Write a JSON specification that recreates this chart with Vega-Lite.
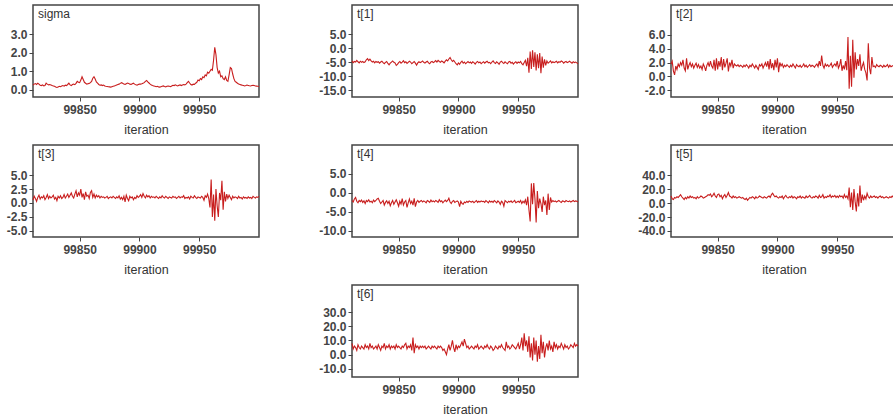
{
"$schema": "https://vega.github.io/schema/vega-lite/v6.json",
"background": "white",
"padding": {"left": 5, "top": 4, "right": 0, "bottom": 0},
"data": {"values": [
{"i":99811,"sigma":0.25,"t1":-4.6,"t2":1.8,"t3":0.5,"t4":-2.0,"t5":10,"t6":8},
{"i":99812,"sigma":0.30,"t1":-5.2,"t2":2.2,"t3":1.2,"t4":-2.4,"t5":6,"t6":4},
{"i":99813,"sigma":0.33,"t1":-4.8,"t2":0.8,"t3":0.8,"t4":-1.6,"t5":5,"t6":6},
{"i":99814,"sigma":0.28,"t1":-5.0,"t2":0.2,"t3":0.3,"t4":-1.2,"t5":8,"t6":5},
{"i":99815,"sigma":0.35,"t1":-4.4,"t2":1.5,"t3":1.0,"t4":-2.2,"t5":7,"t6":3},
{"i":99816,"sigma":0.30,"t1":-4.9,"t2":1.0,"t3":1.4,"t4":-2.6,"t5":9,"t6":7},
{"i":99817,"sigma":0.24,"t1":-5.3,"t2":1.8,"t3":0.7,"t4":-2.0,"t5":8,"t6":5},
{"i":99818,"sigma":0.22,"t1":-4.7,"t2":1.4,"t3":1.1,"t4":-2.3,"t5":10,"t6":4},
{"i":99819,"sigma":0.26,"t1":-5.1,"t2":2.0,"t3":0.9,"t4":-1.9,"t5":12,"t6":6},
{"i":99820,"sigma":0.20,"t1":-4.8,"t2":1.6,"t3":1.3,"t4":-2.5,"t5":9,"t6":5},
{"i":99821,"sigma":0.22,"t1":-5.2,"t2":2.4,"t3":0.6,"t4":-2.1,"t5":7,"t6":4},
{"i":99822,"sigma":0.35,"t1":-4.9,"t2":1.2,"t3":1.0,"t4":-2.8,"t5":5,"t6":7},
{"i":99823,"sigma":0.30,"t1":-4.2,"t2":0.8,"t3":1.5,"t4":-2.0,"t5":8,"t6":5},
{"i":99824,"sigma":0.26,"t1":-3.8,"t2":2.6,"t3":0.8,"t4":-2.3,"t5":6,"t6":6},
{"i":99825,"sigma":0.28,"t1":-4.5,"t2":1.0,"t3":1.2,"t4":-1.8,"t5":9,"t6":4},
{"i":99826,"sigma":0.25,"t1":-4.0,"t2":1.6,"t3":0.9,"t4":-2.4,"t5":7,"t6":8},
{"i":99827,"sigma":0.22,"t1":-4.6,"t2":2.0,"t3":1.1,"t4":-2.2,"t5":10,"t6":5},
{"i":99828,"sigma":0.20,"t1":-5.0,"t2":1.4,"t3":1.4,"t4":-2.6,"t5":8,"t6":6},
{"i":99829,"sigma":0.18,"t1":-4.7,"t2":1.8,"t3":0.7,"t4":-1.9,"t5":9,"t6":4},
{"i":99830,"sigma":0.14,"t1":-5.3,"t2":1.2,"t3":1.0,"t4":-2.3,"t5":7,"t6":5},
{"i":99831,"sigma":0.12,"t1":-4.8,"t2":1.6,"t3":0.4,"t4":-2.0,"t5":8,"t6":6},
{"i":99832,"sigma":0.15,"t1":-5.1,"t2":1.9,"t3":1.2,"t4":-1.6,"t5":6,"t6":4},
{"i":99833,"sigma":0.18,"t1":-4.9,"t2":1.3,"t3":0.9,"t4":-1.4,"t5":9,"t6":7},
{"i":99834,"sigma":0.16,"t1":-5.4,"t2":1.7,"t3":1.3,"t4":-2.2,"t5":7,"t6":5},
{"i":99835,"sigma":0.20,"t1":-5.0,"t2":1.2,"t3":0.8,"t4":-2.8,"t5":8,"t6":3},
{"i":99836,"sigma":0.22,"t1":-4.7,"t2":1.5,"t3":1.0,"t4":-2.4,"t5":10,"t6":6},
{"i":99837,"sigma":0.19,"t1":-5.2,"t2":1.0,"t3":1.5,"t4":-2.0,"t5":9,"t6":5},
{"i":99838,"sigma":0.24,"t1":-5.6,"t2":1.8,"t3":0.9,"t4":-3.2,"t5":7,"t6":8},
{"i":99839,"sigma":0.22,"t1":-5.1,"t2":1.4,"t3":1.2,"t4":-2.5,"t5":8,"t6":4},
{"i":99840,"sigma":0.28,"t1":-4.8,"t2":0.8,"t3":1.6,"t4":-2.1,"t5":9,"t6":6},
{"i":99841,"sigma":0.35,"t1":-5.5,"t2":1.6,"t3":1.0,"t4":-2.8,"t5":10,"t6":5},
{"i":99842,"sigma":0.26,"t1":-6.0,"t2":2.0,"t3":1.4,"t4":-2.2,"t5":12,"t6":7},
{"i":99843,"sigma":0.22,"t1":-5.4,"t2":1.4,"t3":1.8,"t4":-3.4,"t5":11,"t6":4},
{"i":99844,"sigma":0.28,"t1":-5.0,"t2":2.2,"t3":1.2,"t4":-2.6,"t5":13,"t6":6},
{"i":99845,"sigma":0.30,"t1":-4.6,"t2":1.5,"t3":0.9,"t4":-2.0,"t5":9,"t6":5},
{"i":99846,"sigma":0.27,"t1":-5.1,"t2":1.2,"t3":1.6,"t4":-3.0,"t5":11,"t6":6},
{"i":99847,"sigma":0.34,"t1":-5.3,"t2":2.4,"t3":2.2,"t4":-2.4,"t5":14,"t6":4},
{"i":99848,"sigma":0.45,"t1":-6.2,"t2":0.8,"t3":1.1,"t4":-1.8,"t5":10,"t6":7},
{"i":99849,"sigma":0.40,"t1":-5.8,"t2":2.6,"t3":1.8,"t4":-2.6,"t5":8,"t6":5},
{"i":99850,"sigma":0.38,"t1":-5.2,"t2":1.0,"t3":1.4,"t4":-3.5,"t5":12,"t6":6},
{"i":99851,"sigma":0.52,"t1":-4.8,"t2":2.2,"t3":2.5,"t4":-2.2,"t5":13,"t6":5},
{"i":99852,"sigma":0.70,"t1":-5.4,"t2":1.4,"t3":1.0,"t4":-2.9,"t5":9,"t6":4},
{"i":99853,"sigma":0.55,"t1":-5.0,"t2":2.8,"t3":1.7,"t4":-1.5,"t5":11,"t6":6},
{"i":99854,"sigma":0.40,"t1":-4.5,"t2":0.9,"t3":0.6,"t4":-3.2,"t5":6,"t6":5},
{"i":99855,"sigma":0.35,"t1":-5.2,"t2":2.5,"t3":2.0,"t4":-2.4,"t5":10,"t6":7},
{"i":99856,"sigma":0.30,"t1":-4.9,"t2":1.3,"t3":1.2,"t4":-2.0,"t5":12,"t6":8},
{"i":99857,"sigma":0.32,"t1":-5.5,"t2":1.9,"t3":1.4,"t4":-3.8,"t5":8,"t6":4},
{"i":99858,"sigma":0.34,"t1":-5.1,"t2":2.6,"t3":0.8,"t4":-2.6,"t5":11,"t6":6},
{"i":99859,"sigma":0.38,"t1":-4.7,"t2":0.7,"t3":1.9,"t4":-1.6,"t5":15,"t6":5},
{"i":99860,"sigma":0.45,"t1":-5.0,"t2":2.0,"t3":2.2,"t4":-2.8,"t5":10,"t6":7},
{"i":99861,"sigma":0.62,"t1":-5.6,"t2":1.5,"t3":1.0,"t4":-2.2,"t5":9,"t6":3},
{"i":99862,"sigma":0.70,"t1":-5.2,"t2":2.4,"t3":1.6,"t4":-3.2,"t5":7,"t6":12},
{"i":99863,"sigma":0.58,"t1":-4.8,"t2":1.2,"t3":0.9,"t4":-1.4,"t5":10,"t6":1},
{"i":99864,"sigma":0.42,"t1":-5.4,"t2":1.8,"t3":1.4,"t4":-3.6,"t5":8,"t6":7},
{"i":99865,"sigma":0.35,"t1":-6.1,"t2":1.6,"t3":1.1,"t4":-2.4,"t5":9,"t6":5},
{"i":99866,"sigma":0.28,"t1":-5.3,"t2":1.5,"t3":1.3,"t4":-2.0,"t5":7,"t6":6},
{"i":99867,"sigma":0.24,"t1":-4.9,"t2":1.7,"t3":0.9,"t4":-2.5,"t5":8,"t6":4},
{"i":99868,"sigma":0.26,"t1":-5.2,"t2":1.4,"t3":1.2,"t4":-2.2,"t5":9,"t6":6},
{"i":99869,"sigma":0.22,"t1":-5.0,"t2":1.6,"t3":1.0,"t4":-2.0,"t5":8,"t6":5},
{"i":99870,"sigma":0.25,"t1":-4.6,"t2":1.5,"t3":1.1,"t4":-2.4,"t5":7,"t6":6},
{"i":99871,"sigma":0.20,"t1":-5.1,"t2":1.3,"t3":0.9,"t4":-2.1,"t5":8,"t6":5},
{"i":99872,"sigma":0.18,"t1":-5.4,"t2":1.6,"t3":1.0,"t4":-2.3,"t5":6,"t6":6},
{"i":99873,"sigma":0.17,"t1":-5.0,"t2":1.4,"t3":1.2,"t4":-2.6,"t5":5,"t6":4},
{"i":99874,"sigma":0.16,"t1":-4.7,"t2":1.7,"t3":0.8,"t4":-2.0,"t5":7,"t6":5},
{"i":99875,"sigma":0.15,"t1":-5.3,"t2":1.5,"t3":1.0,"t4":-2.2,"t5":4,"t6":6},
{"i":99876,"sigma":0.14,"t1":-5.6,"t2":1.2,"t3":1.1,"t4":-2.5,"t5":6,"t6":5},
{"i":99877,"sigma":0.16,"t1":-5.0,"t2":1.6,"t3":0.9,"t4":-1.9,"t5":8,"t6":4},
{"i":99878,"sigma":0.18,"t1":-4.8,"t2":1.4,"t3":1.2,"t4":-2.3,"t5":7,"t6":6},
{"i":99879,"sigma":0.20,"t1":-5.2,"t2":1.8,"t3":1.0,"t4":-2.1,"t5":9,"t6":5},
{"i":99880,"sigma":0.22,"t1":-4.9,"t2":1.5,"t3":0.8,"t4":-2.4,"t5":8,"t6":6},
{"i":99881,"sigma":0.25,"t1":-4.5,"t2":1.2,"t3":1.1,"t4":-2.0,"t5":6,"t6":5},
{"i":99882,"sigma":0.28,"t1":-5.0,"t2":1.6,"t3":0.9,"t4":-2.2,"t5":9,"t6":4},
{"i":99883,"sigma":0.30,"t1":-4.4,"t2":1.3,"t3":1.3,"t4":-2.5,"t5":7,"t6":6},
{"i":99884,"sigma":0.34,"t1":-4.8,"t2":1.0,"t3":0.7,"t4":-1.8,"t5":8,"t6":5},
{"i":99885,"sigma":0.38,"t1":-5.1,"t2":1.7,"t3":1.0,"t4":-2.3,"t5":10,"t6":6},
{"i":99886,"sigma":0.35,"t1":-4.6,"t2":1.5,"t3":0.6,"t4":-2.1,"t5":9,"t6":5},
{"i":99887,"sigma":0.30,"t1":-4.9,"t2":1.8,"t3":1.2,"t4":-2.6,"t5":8,"t6":3},
{"i":99888,"sigma":0.28,"t1":-5.3,"t2":1.2,"t3":0.2,"t4":-2.2,"t5":7,"t6":4},
{"i":99889,"sigma":0.32,"t1":-4.7,"t2":1.6,"t3":1.4,"t4":-1.9,"t5":9,"t6":2},
{"i":99890,"sigma":0.36,"t1":-4.2,"t2":2.0,"t3":0.8,"t4":-2.3,"t5":8,"t6":0},
{"i":99891,"sigma":0.34,"t1":-4.6,"t2":1.4,"t3":0.4,"t4":-2.0,"t5":7,"t6":4},
{"i":99892,"sigma":0.30,"t1":-3.9,"t2":2.2,"t3":1.2,"t4":-1.4,"t5":9,"t6":7},
{"i":99893,"sigma":0.28,"t1":-3.4,"t2":1.0,"t3":0.9,"t4":-2.4,"t5":10,"t6":3},
{"i":99894,"sigma":0.32,"t1":-4.2,"t2":2.5,"t3":1.1,"t4":-2.8,"t5":8,"t6":6},
{"i":99895,"sigma":0.35,"t1":-4.8,"t2":1.2,"t3":0.6,"t4":-2.2,"t5":12,"t6":10},
{"i":99896,"sigma":0.30,"t1":-4.4,"t2":1.9,"t3":1.0,"t4":-2.0,"t5":14,"t6":5},
{"i":99897,"sigma":0.26,"t1":-5.0,"t2":0.9,"t3":0.8,"t4":-2.5,"t5":11,"t6":2},
{"i":99898,"sigma":0.24,"t1":-5.6,"t2":2.4,"t3":1.3,"t4":-2.3,"t5":9,"t6":7},
{"i":99899,"sigma":0.28,"t1":-6.0,"t2":1.3,"t3":1.0,"t4":-2.1,"t5":10,"t6":4},
{"i":99900,"sigma":0.30,"t1":-5.3,"t2":2.6,"t3":1.2,"t4":-2.4,"t5":8,"t6":6},
{"i":99901,"sigma":0.30,"t1":-5.8,"t2":0.6,"t3":1.5,"t4":-3.6,"t5":7,"t6":5},
{"i":99902,"sigma":0.32,"t1":-5.1,"t2":2.0,"t3":1.0,"t4":-2.2,"t5":9,"t6":7},
{"i":99903,"sigma":0.35,"t1":-4.7,"t2":1.5,"t3":1.7,"t4":-2.8,"t5":8,"t6":9},
{"i":99904,"sigma":0.38,"t1":-5.4,"t2":1.8,"t3":1.2,"t4":-3.0,"t5":10,"t6":6},
{"i":99905,"sigma":0.45,"t1":-5.0,"t2":1.3,"t3":0.9,"t4":-2.4,"t5":6,"t6":11},
{"i":99906,"sigma":0.50,"t1":-5.6,"t2":1.6,"t3":1.4,"t4":-2.6,"t5":9,"t6":8},
{"i":99907,"sigma":0.42,"t1":-5.2,"t2":1.4,"t3":1.1,"t4":-2.2,"t5":11,"t6":5},
{"i":99908,"sigma":0.36,"t1":-4.8,"t2":1.7,"t3":1.3,"t4":-2.5,"t5":8,"t6":6},
{"i":99909,"sigma":0.30,"t1":-5.3,"t2":1.5,"t3":0.9,"t4":-2.1,"t5":7,"t6":4},
{"i":99910,"sigma":0.25,"t1":-5.0,"t2":1.3,"t3":1.2,"t4":-2.3,"t5":9,"t6":5},
{"i":99911,"sigma":0.22,"t1":-5.5,"t2":1.6,"t3":1.0,"t4":-2.4,"t5":8,"t6":6},
{"i":99912,"sigma":0.20,"t1":-4.9,"t2":1.4,"t3":1.1,"t4":-2.2,"t5":10,"t6":5},
{"i":99913,"sigma":0.18,"t1":-5.2,"t2":1.8,"t3":0.9,"t4":-2.6,"t5":7,"t6":4},
{"i":99914,"sigma":0.16,"t1":-5.7,"t2":1.5,"t3":1.2,"t4":-2.3,"t5":9,"t6":6},
{"i":99915,"sigma":0.18,"t1":-5.1,"t2":1.2,"t3":1.0,"t4":-2.0,"t5":8,"t6":5},
{"i":99916,"sigma":0.15,"t1":-4.8,"t2":1.7,"t3":0.8,"t4":-2.5,"t5":6,"t6":7},
{"i":99917,"sigma":0.14,"t1":-5.3,"t2":1.5,"t3":1.1,"t4":-2.2,"t5":9,"t6":4},
{"i":99918,"sigma":0.16,"t1":-5.0,"t2":1.4,"t3":0.9,"t4":-2.4,"t5":8,"t6":5},
{"i":99919,"sigma":0.18,"t1":-5.6,"t2":1.6,"t3":1.3,"t4":-2.1,"t5":10,"t6":6},
{"i":99920,"sigma":0.20,"t1":-5.2,"t2":1.3,"t3":1.0,"t4":-2.3,"t5":7,"t6":5},
{"i":99921,"sigma":0.17,"t1":-4.9,"t2":1.5,"t3":0.9,"t4":-2.2,"t5":9,"t6":4},
{"i":99922,"sigma":0.15,"t1":-5.4,"t2":1.8,"t3":1.2,"t4":-2.5,"t5":8,"t6":6},
{"i":99923,"sigma":0.18,"t1":-5.0,"t2":1.4,"t3":1.0,"t4":-2.0,"t5":7,"t6":5},
{"i":99924,"sigma":0.20,"t1":-4.7,"t2":1.6,"t3":0.8,"t4":-2.3,"t5":10,"t6":7},
{"i":99925,"sigma":0.18,"t1":-5.3,"t2":1.3,"t3":1.1,"t4":-2.6,"t5":8,"t6":5},
{"i":99926,"sigma":0.16,"t1":-5.1,"t2":1.5,"t3":1.0,"t4":-2.1,"t5":9,"t6":4},
{"i":99927,"sigma":0.20,"t1":-5.6,"t2":1.7,"t3":0.9,"t4":-2.4,"t5":11,"t6":6},
{"i":99928,"sigma":0.24,"t1":-5.0,"t2":1.4,"t3":1.2,"t4":-2.2,"t5":8,"t6":5},
{"i":99929,"sigma":0.22,"t1":-4.6,"t2":1.6,"t3":1.0,"t4":-2.5,"t5":7,"t6":3},
{"i":99930,"sigma":0.26,"t1":-5.2,"t2":1.5,"t3":1.1,"t4":-2.0,"t5":9,"t6":4},
{"i":99931,"sigma":0.22,"t1":-5.5,"t2":1.3,"t3":0.8,"t4":-2.3,"t5":8,"t6":6},
{"i":99932,"sigma":0.20,"t1":-4.9,"t2":1.6,"t3":1.0,"t4":-2.6,"t5":10,"t6":5},
{"i":99933,"sigma":0.24,"t1":-5.3,"t2":1.8,"t3":1.2,"t4":-2.1,"t5":9,"t6":4},
{"i":99934,"sigma":0.26,"t1":-5.8,"t2":1.4,"t3":0.9,"t4":-2.4,"t5":7,"t6":6},
{"i":99935,"sigma":0.22,"t1":-5.0,"t2":2.2,"t3":1.1,"t4":-3.0,"t5":11,"t6":5},
{"i":99936,"sigma":0.25,"t1":-4.7,"t2":1.5,"t3":1.0,"t4":-2.2,"t5":8,"t6":7},
{"i":99937,"sigma":0.28,"t1":-5.2,"t2":3.0,"t3":1.3,"t4":-2.5,"t5":9,"t6":5},
{"i":99938,"sigma":0.26,"t1":-5.5,"t2":1.6,"t3":0.8,"t4":-3.5,"t5":12,"t6":4},
{"i":99939,"sigma":0.30,"t1":-4.9,"t2":1.2,"t3":1.0,"t4":-2.0,"t5":7,"t6":3},
{"i":99940,"sigma":0.38,"t1":-5.3,"t2":1.8,"t3":0.9,"t4":-2.3,"t5":9,"t6":9},
{"i":99941,"sigma":0.45,"t1":-5.6,"t2":1.5,"t3":1.1,"t4":-2.6,"t5":8,"t6":5},
{"i":99942,"sigma":0.36,"t1":-5.0,"t2":1.7,"t3":0.7,"t4":-2.2,"t5":10,"t6":6},
{"i":99943,"sigma":0.28,"t1":-4.8,"t2":1.4,"t3":1.2,"t4":-2.4,"t5":9,"t6":4},
{"i":99944,"sigma":0.25,"t1":-5.4,"t2":1.6,"t3":1.0,"t4":-2.1,"t5":12,"t6":5},
{"i":99945,"sigma":0.30,"t1":-5.1,"t2":1.9,"t3":0.9,"t4":-2.5,"t5":8,"t6":7},
{"i":99946,"sigma":0.28,"t1":-5.7,"t2":1.3,"t3":1.3,"t4":-2.3,"t5":10,"t6":6},
{"i":99947,"sigma":0.35,"t1":-5.2,"t2":1.6,"t3":1.0,"t4":-2.0,"t5":9,"t6":5},
{"i":99948,"sigma":0.40,"t1":-4.9,"t2":1.8,"t3":0.8,"t4":-2.6,"t5":11,"t6":4},
{"i":99949,"sigma":0.52,"t1":-5.5,"t2":1.5,"t3":1.1,"t4":-2.4,"t5":8,"t6":6},
{"i":99950,"sigma":0.48,"t1":-5.0,"t2":2.2,"t3":1.0,"t4":-2.2,"t5":10,"t6":8},
{"i":99951,"sigma":0.60,"t1":-5.3,"t2":1.2,"t3":0.9,"t4":-2.5,"t5":8,"t6":4},
{"i":99952,"sigma":0.55,"t1":-4.8,"t2":1.6,"t3":1.2,"t4":-2.0,"t5":11,"t6":7},
{"i":99953,"sigma":0.70,"t1":-5.6,"t2":2.5,"t3":1.0,"t4":-2.8,"t5":9,"t6":12},
{"i":99954,"sigma":0.65,"t1":-6.0,"t2":0.8,"t3":0.5,"t4":-2.2,"t5":10,"t6":3},
{"i":99955,"sigma":0.80,"t1":-5.2,"t2":1.6,"t3":1.3,"t4":-2.6,"t5":7,"t6":15},
{"i":99956,"sigma":0.75,"t1":-4.4,"t2":1.0,"t3":1.0,"t4":-1.8,"t5":12,"t6":6},
{"i":99957,"sigma":0.95,"t1":-6.5,"t2":2.2,"t3":1.6,"t4":-3.2,"t5":8,"t6":10},
{"i":99958,"sigma":0.90,"t1":-3.5,"t2":0.9,"t3":0.8,"t4":-1.0,"t5":10,"t6":2},
{"i":99959,"sigma":1.00,"t1":-8.8,"t2":5.7,"t3":-0.8,"t4":-4.5,"t5":6,"t6":13},
{"i":99960,"sigma":1.10,"t1":-1.2,"t2":-1.8,"t3":4.2,"t4":-7.5,"t5":22,"t6":-2},
{"i":99961,"sigma":1.05,"t1":-7.5,"t2":3.0,"t3":-2.5,"t4":2.5,"t5":-6,"t6":8},
{"i":99962,"sigma":1.60,"t1":-0.8,"t2":-1.5,"t3":1.5,"t4":-3.0,"t5":15,"t6":-4},
{"i":99963,"sigma":2.30,"t1":-6.8,"t2":5.3,"t3":-3.2,"t4":2.6,"t5":-10,"t6":12},
{"i":99964,"sigma":1.90,"t1":-1.5,"t2":-0.2,"t3":2.5,"t4":-1.5,"t5":20,"t6":0},
{"i":99965,"sigma":1.20,"t1":-8.0,"t2":3.5,"t3":-0.5,"t4":-7.8,"t5":2,"t6":10},
{"i":99966,"sigma":0.90,"t1":-2.2,"t2":1.0,"t3":-2.5,"t4":0.5,"t5":-12,"t6":-5},
{"i":99967,"sigma":1.00,"t1":-7.2,"t2":2.5,"t3":1.8,"t4":-4.0,"t5":14,"t6":6},
{"i":99968,"sigma":0.70,"t1":-1.8,"t2":1.5,"t3":0.5,"t4":-1.5,"t5":-5,"t6":-3},
{"i":99969,"sigma":0.75,"t1":-9.0,"t2":3.2,"t3":4.0,"t4":-2.8,"t5":25,"t6":14},
{"i":99970,"sigma":0.60,"t1":-3.0,"t2":0.8,"t3":-1.2,"t4":-5.0,"t5":0,"t6":1},
{"i":99971,"sigma":0.55,"t1":-7.0,"t2":1.5,"t3":2.0,"t4":-1.0,"t5":12,"t6":9},
{"i":99972,"sigma":0.70,"t1":-4.0,"t2":2.0,"t3":0.3,"t4":-3.2,"t5":4,"t6":-2},
{"i":99973,"sigma":0.50,"t1":-6.2,"t2":1.0,"t3":1.6,"t4":-2.0,"t5":10,"t6":5},
{"i":99974,"sigma":0.45,"t1":-4.6,"t2":0.5,"t3":0.8,"t4":-5.8,"t5":6,"t6":8},
{"i":99975,"sigma":0.80,"t1":-5.4,"t2":-0.6,"t3":1.4,"t4":-0.2,"t5":14,"t6":3},
{"i":99976,"sigma":1.20,"t1":-5.0,"t2":4.8,"t3":1.0,"t4":-4.5,"t5":9,"t6":10},
{"i":99977,"sigma":1.15,"t1":-4.6,"t2":1.2,"t3":0.6,"t4":-1.2,"t5":7,"t6":4},
{"i":99978,"sigma":0.85,"t1":-5.3,"t2":0.3,"t3":1.2,"t4":-2.4,"t5":10,"t6":6},
{"i":99979,"sigma":0.60,"t1":-4.9,"t2":2.8,"t3":0.9,"t4":-2.0,"t5":8,"t6":2},
{"i":99980,"sigma":0.45,"t1":-5.2,"t2":1.4,"t3":1.1,"t4":-2.3,"t5":9,"t6":9},
{"i":99981,"sigma":0.40,"t1":-5.0,"t2":1.5,"t3":1.0,"t4":-2.1,"t5":10,"t6":5},
{"i":99982,"sigma":0.35,"t1":-4.7,"t2":1.3,"t3":0.8,"t4":-2.4,"t5":8,"t6":7},
{"i":99983,"sigma":0.30,"t1":-5.3,"t2":1.7,"t3":1.2,"t4":-2.2,"t5":9,"t6":4},
{"i":99984,"sigma":0.28,"t1":-4.9,"t2":1.5,"t3":0.9,"t4":-2.0,"t5":7,"t6":6},
{"i":99985,"sigma":0.26,"t1":-5.1,"t2":1.4,"t3":1.0,"t4":-2.3,"t5":9,"t6":5},
{"i":99986,"sigma":0.24,"t1":-4.6,"t2":1.6,"t3":0.7,"t4":-2.5,"t5":10,"t6":8},
{"i":99987,"sigma":0.22,"t1":-4.9,"t2":1.5,"t3":1.1,"t4":-2.1,"t5":8,"t6":6},
{"i":99988,"sigma":0.20,"t1":-5.4,"t2":1.3,"t3":0.9,"t4":-2.2,"t5":9,"t6":4},
{"i":99989,"sigma":0.22,"t1":-5.0,"t2":1.6,"t3":1.0,"t4":-2.4,"t5":7,"t6":7},
{"i":99990,"sigma":0.25,"t1":-4.8,"t2":1.4,"t3":0.8,"t4":-2.0,"t5":8,"t6":5},
{"i":99991,"sigma":0.23,"t1":-5.2,"t2":1.5,"t3":1.1,"t4":-2.2,"t5":9,"t6":6},
{"i":99992,"sigma":0.21,"t1":-5.0,"t2":1.7,"t3":0.9,"t4":-2.3,"t5":8,"t6":4},
{"i":99993,"sigma":0.20,"t1":-4.7,"t2":1.3,"t3":1.0,"t4":-2.1,"t5":7,"t6":5},
{"i":99994,"sigma":0.22,"t1":-5.1,"t2":1.6,"t3":0.8,"t4":-2.4,"t5":9,"t6":7},
{"i":99995,"sigma":0.24,"t1":-5.4,"t2":1.4,"t3":1.2,"t4":-2.2,"t5":8,"t6":6},
{"i":99996,"sigma":0.22,"t1":-4.9,"t2":1.5,"t3":1.0,"t4":-2.0,"t5":10,"t6":5},
{"i":99997,"sigma":0.20,"t1":-5.2,"t2":1.6,"t3":0.9,"t4":-2.3,"t5":8,"t6":8},
{"i":99998,"sigma":0.19,"t1":-5.0,"t2":1.3,"t3":1.1,"t4":-2.1,"t5":7,"t6":6},
{"i":99999,"sigma":0.18,"t1":-5.3,"t2":1.5,"t3":1.0,"t4":-2.2,"t5":9,"t6":7},
{"i":100000,"sigma":0.17,"t1":-5.6,"t2":1.4,"t3":1.2,"t4":-2.4,"t5":8,"t6":6}
]},
"columns": 3,
"spacing": {"row": 48, "column": 93},
"bounds": "flush",
"concat": [
{"title": "sigma", "width": 226, "height": 92, "mark": "line",
 "encoding": {
  "x": {"field": "i", "type": "quantitative", "scale": {"domain": [99811, 100000], "nice": false, "zero": false}, "axis": {"values": [99850, 99900, 99950], "format": "d", "title": "iteration", "labelFlush": false}},
  "y": {"field": "sigma", "type": "quantitative", "scale": {"domain": [-0.4, 4.6], "nice": false, "zero": false}, "axis": {"values": [0, 1, 2, 3], "title": null, "labelExpr": "datum.value < 0 ? '-' + format(-datum.value, '.1f') : format(datum.value, '.1f')"}}}},
{"title": "t[1]", "width": 226, "height": 92, "mark": "line",
 "encoding": {
  "x": {"field": "i", "type": "quantitative", "scale": {"domain": [99811, 100000], "nice": false, "zero": false}, "axis": {"values": [99850, 99900, 99950], "format": "d", "title": "iteration", "labelFlush": false}},
  "y": {"field": "t1", "type": "quantitative", "scale": {"domain": [-17.5, 15.4], "nice": false, "zero": false}, "axis": {"values": [-15, -10, -5, 0, 5], "title": null, "labelExpr": "datum.value < 0 ? '-' + format(-datum.value, '.1f') : format(datum.value, '.1f')"}}}},
{"title": "t[2]", "width": 226, "height": 92, "mark": "line",
 "encoding": {
  "x": {"field": "i", "type": "quantitative", "scale": {"domain": [99811, 100000], "nice": false, "zero": false}, "axis": {"values": [99850, 99900, 99950], "format": "d", "title": "iteration", "labelFlush": false}},
  "y": {"field": "t2", "type": "quantitative", "scale": {"domain": [-3.0, 10.35], "nice": false, "zero": false}, "axis": {"values": [-2, 0, 2, 4, 6], "title": null, "labelExpr": "datum.value < 0 ? '-' + format(-datum.value, '.1f') : format(datum.value, '.1f')"}}}},
{"title": "t[3]", "width": 226, "height": 92, "mark": "line",
 "encoding": {
  "x": {"field": "i", "type": "quantitative", "scale": {"domain": [99811, 100000], "nice": false, "zero": false}, "axis": {"values": [99850, 99900, 99950], "format": "d", "title": "iteration", "labelFlush": false}},
  "y": {"field": "t3", "type": "quantitative", "scale": {"domain": [-6.1, 10.4], "nice": false, "zero": false}, "axis": {"values": [-5, -2.5, 0, 2.5, 5], "title": null, "labelExpr": "datum.value < 0 ? '-' + format(-datum.value, '.1f') : format(datum.value, '.1f')"}}}},
{"title": "t[4]", "width": 226, "height": 92, "mark": "line",
 "encoding": {
  "x": {"field": "i", "type": "quantitative", "scale": {"domain": [99811, 100000], "nice": false, "zero": false}, "axis": {"values": [99850, 99900, 99950], "format": "d", "title": "iteration", "labelFlush": false}},
  "y": {"field": "t4", "type": "quantitative", "scale": {"domain": [-11.6, 12.6], "nice": false, "zero": false}, "axis": {"values": [-10, -5, 0, 5], "title": null, "labelExpr": "datum.value < 0 ? '-' + format(-datum.value, '.1f') : format(datum.value, '.1f')"}}}},
{"title": "t[5]", "width": 226, "height": 92, "mark": "line",
 "encoding": {
  "x": {"field": "i", "type": "quantitative", "scale": {"domain": [99811, 100000], "nice": false, "zero": false}, "axis": {"values": [99850, 99900, 99950], "format": "d", "title": "iteration", "labelFlush": false}},
  "y": {"field": "t5", "type": "quantitative", "scale": {"domain": [-48.6, 83], "nice": false, "zero": false}, "axis": {"values": [-40, -20, 0, 20, 40], "title": null, "labelExpr": "datum.value < 0 ? '-' + format(-datum.value, '.1f') : format(datum.value, '.1f')"}}}},
{"data": {"values": []}, "mark": "point", "width": 226, "height": 92, "view": {"stroke": null}},
{"title": "t[6]", "width": 226, "height": 92, "mark": "line",
 "encoding": {
  "x": {"field": "i", "type": "quantitative", "scale": {"domain": [99811, 100000], "nice": false, "zero": false}, "axis": {"values": [99850, 99900, 99950], "format": "d", "title": "iteration", "labelFlush": false}},
  "y": {"field": "t6", "type": "quantitative", "scale": {"domain": [-15.7, 49], "nice": false, "zero": false}, "axis": {"values": [-10, 0, 10, 20, 30], "title": null, "labelExpr": "datum.value < 0 ? '-' + format(-datum.value, '.1f') : format(datum.value, '.1f')"}}}}
],
"config": {
  "view": {"stroke": "#444444", "strokeWidth": 1.5},
  "axis": {"domain": false, "grid": false, "ticks": true, "tickColor": "#444444", "tickSize": 4, "tickWidth": 1, "labelFont": "Liberation Sans", "labelFontSize": 12, "labelFontWeight": "bold", "labelColor": "#444444", "labelPadding": 2, "titleFont": "Liberation Sans", "titleFontSize": 12.5, "titleFontWeight": "normal", "titleColor": "#333333"},
  "axisX": {"labelPadding": 3, "titlePadding": 8},
  "title": {"anchor": "start", "frame": "group", "offset": -16, "dx": 5, "font": "Liberation Sans", "fontSize": 12, "fontWeight": "normal", "color": "#333333"},
  "line": {"color": "#c81e1e", "strokeWidth": 1.1, "clip": true}
}
}
